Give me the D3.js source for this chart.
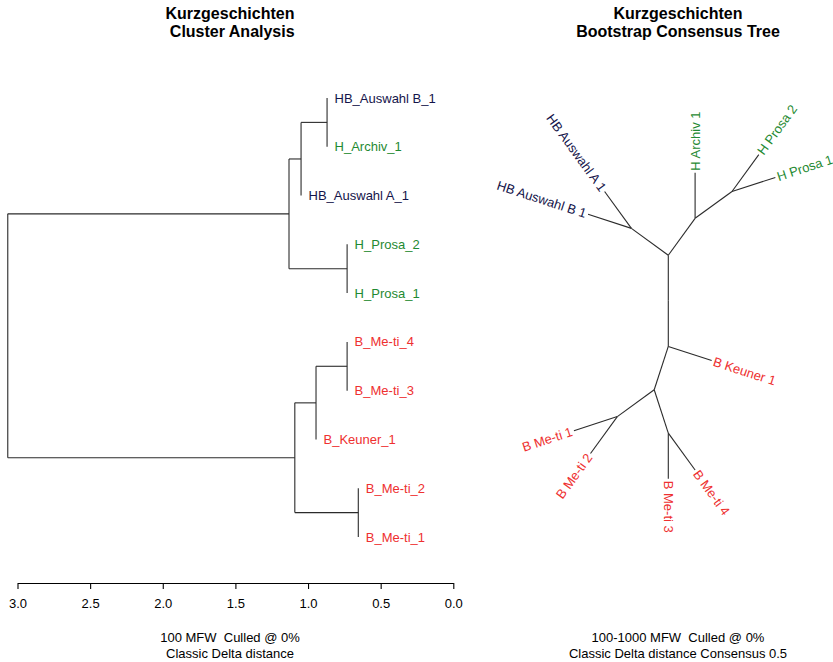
<!DOCTYPE html>
<html><head><meta charset="utf-8">
<script src="https://cdn.jsdelivr.net/npm/d3@7"></script>
<style>
body{margin:0;background:#fff}
text{font-family:"Liberation Sans",Arial,Helvetica,sans-serif}
</style>
</head><body><svg id="c" width="833" height="662"></svg>
<script>
// ---------- data ----------
const leafNames = ["HB_Auswahl B_1","H_Archiv_1","HB_Auswahl A_1","H_Prosa_2","H_Prosa_1",
                   "B_Me-ti_4","B_Me-ti_3","B_Keuner_1","B_Me-ti_2","B_Me-ti_1"];
// hclust-style merges: negative = leaf (1-based), positive = earlier merge; third value = height
const mergeLeft   = [-1, 1, -4, 2, -6, 5, -9, 6, 4];
const mergeRight  = [-2, -3, -5, 3, -7, -8, -10, 7, 8];
const mergeHeight = [0.869, 1.048, 0.731, 1.131, 0.731, 0.945, 0.654, 1.091, 3.067];
const axisTicks = [3.0, 2.5, 2.0, 1.5, 1.0, 0.5, 0.0];

// bootstrap consensus tree topology (unit branch lengths, unrooted equal-angle layout)
const consensusTree = [
  [[["H Prosa 1","H Prosa 2"],"H Archiv 1"],["HB Auswahl A 1","HB Auswahl B 1"]],
  [[["B Me-ti 1","B Me-ti 2"],["B Me-ti 3","B Me-ti 4"]],"B Keuner 1"]
];

const groupColors = {HB:"#14144a", H:"#1f8a32", B:"#ee3030"};
function colorOf(name){ const g = name.split(/[_ ]/)[0]; return groupColors[g]; }

const titleLeft = ["Kurzgeschichten", " Cluster Analysis"];
const titleRight = ["Kurzgeschichten", "Bootstrap Consensus Tree"];
const subLeft = ["100 MFW  Culled @ 0%", "Classic Delta distance"];
const subRight = ["100-1000 MFW  Culled @ 0%", "Classic Delta distance Consensus 0.5"];

// ---------- drawing ----------
const svg = d3.select("#c");
const lineCol = "#2b2b2b";

// Titles
function titles(lines, cx){
  lines.forEach((t,i)=>{
    svg.append("text").attr("x",cx).attr("y",18.5+18.5*i).attr("text-anchor","middle")
      .attr("font-size",16).attr("font-weight","bold").attr("xml:space","preserve")
      .style("white-space","pre").text(t);
  });
}
function subs(lines, cx){
  lines.forEach((t,i)=>{
    svg.append("text").attr("x",cx).attr("y",642+15.5*i).attr("text-anchor","middle")
      .attr("font-size",13).style("white-space","pre").text(t);
  });
}
titles(titleLeft, 230);
titles(titleRight, 678);
subs(subLeft, 230);
subs(subRight, 678);

// ---- Left dendrogram ----
const xL = d3.scaleLinear().domain([3,0]).range([17.5,453.3]);
const yL = d3.scalePoint().domain(leafNames).range([98,537]);
const gL = svg.append("g");
const mY = [];
function ref(v){ // returns {y, x(or null for leaf), leaf}
  if (v < 0) return {y: yL(leafNames[-v-1]), leaf: true, name: leafNames[-v-1]};
  return {y: mY[v-1], x: xL(mergeHeight[v-1]), leaf:false};
}
mergeHeight.forEach((h,k)=>{
  const a = ref(mergeLeft[k]), b = ref(mergeRight[k]);
  const x = xL(h);
  mY[k] = (a.y + b.y)/2;
  gL.append("line").attr("x1",x).attr("x2",x).attr("y1",a.y).attr("y2",b.y)
    .attr("stroke",lineCol).attr("stroke-width",1.1);
  [a,b].forEach(c=>{
    if (!c.leaf) {
      gL.append("line").attr("x1",x).attr("x2",c.x).attr("y1",c.y).attr("y2",c.y)
        .attr("stroke",lineCol).attr("stroke-width",1.1);
    } else {
      gL.append("text").attr("x",x+7.5).attr("y",c.y+4.6).attr("font-size",13)
        .attr("fill",colorOf(c.name)).text(c.name);
    }
  });
});
const ax = svg.append("g").attr("transform","translate(0,583)")
  .call(d3.axisBottom(xL).tickValues(axisTicks).tickFormat(d3.format(".1f"))
        .tickSize(6).tickSizeOuter(0).tickPadding(10));
ax.selectAll("text").attr("font-size",13).attr("font-family",null).attr("fill","#000");
ax.selectAll("line,path").attr("stroke","#000").attr("stroke-width",1.1);
ax.attr("font-family",null);

// ---- Right unrooted tree ----
const root = d3.hierarchy(consensusTree, d => Array.isArray(d) ? d : null).count();
const xR = d3.scaleLinear().domain([-1,1]).range([668.3-45.6, 668.3+45.6]);
const yR = d3.scaleLinear().domain([-1,1]).range([300.8+45.6, 300.8-45.6]);
root.px = 0; root.py = 0;
(function lay(node, start, end){
  if (!node.children) return;
  let s = start;
  node.children.forEach(ch=>{
    const span = (end-start)*ch.value/node.value;
    const a = s + span/2;
    ch.angle = a;
    ch.px = node.px + Math.cos(a);
    ch.py = node.py + Math.sin(a);
    lay(ch, s, s+span);
    s += span;
  });
})(root, 0, 2*Math.PI);

const gR = svg.append("g");
root.descendants().forEach(n=>{
  if (!n.parent) return;
  gR.append("line").attr("x1",xR(n.parent.px)).attr("y1",yR(n.parent.py))
    .attr("x2",xR(n.px)).attr("y2",yR(n.py)).attr("stroke",lineCol).attr("stroke-width",1.1);
});
root.leaves().forEach(n=>{
  const a = n.angle, deg = a*180/Math.PI;
  const off = 2;
  const tx = xR(n.px) + off*Math.cos(a), ty = yR(n.py) - off*Math.sin(a);
  const right = Math.cos(a) >= -1e-9;
  const rot = right ? -deg : 180 - deg;
  gR.append("text").attr("transform",`translate(${tx},${ty}) rotate(${rot})`)
    .attr("text-anchor", right ? "start" : "end").attr("dy","0.35em")
    .attr("font-size",13).attr("fill",colorOf(n.data)).text(n.data);
});
</script>
</body></html>
